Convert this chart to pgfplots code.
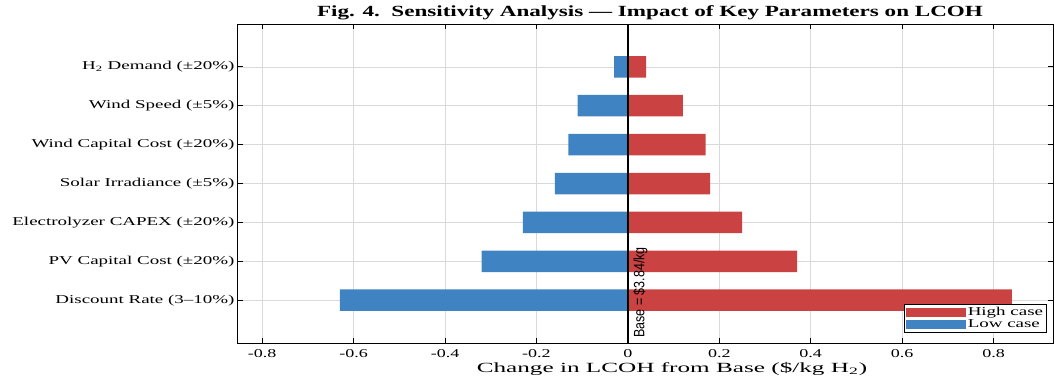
\documentclass[border=0pt]{standalone}
\usepackage{fontspec}
\setmainfont{Liberation Serif}
\newfontfamily\basefont{Liberation Sans}
\usepackage{pgfplots}
\pgfplotsset{compat=1.18}
\definecolor{hired}{RGB}{203,66,66}
\definecolor{lowblue}{RGB}{64,131,194}
\newcommand{\sx}[1]{\scalebox{1.58}[1]{#1}}
\newcommand{\sxt}[1]{\scalebox{1.5}[1]{#1}}
\begin{document}
\begin{tikzpicture}
\begin{axis}[
  scale only axis, width=815pt, height=319pt,
  xmin=-0.853, xmax=0.93, ymin=-1.1, ymax=7.1,
  xtick={-0.8,-0.6,-0.4,-0.2,0,0.2,0.4,0.6,0.8},
  xticklabels={\sxt{-0.8},\sxt{-0.6},\sxt{-0.4},\sxt{-0.2},\sxt{0},\sxt{0.2},\sxt{0.4},\sxt{0.6},\sxt{0.8}},
  ytick={0,1,2,3,4,5,6},
  yticklabels={\sx{Discount Rate (3–10\%)},\sx{PV Capital Cost (±20\%)},\sx{Electrolyzer CAPEX (±20\%)},\sx{Solar Irradiance (±5\%)},\sx{Wind Capital Cost (±20\%)},\sx{Wind Speed (±5\%)},\sx{H\textsubscript{2} Demand (±20\%)}},
  tick align=inside, major tick length=5pt,
  grid=major, grid style={gray!30, line width=0.5pt},
  axis line style={black, line width=1pt},
  tick style={black, line width=0.8pt},
  yticklabel style={font=\fontsize{12}{14}\selectfont},
  xticklabel style={font=\fontsize{12}{14}\selectfont, yshift=-3pt},
  title={\scalebox{1.49}[1]{\bfseries Fig. 4.\ \ Sensitivity Analysis --- Impact of Key Parameters on LCOH}},
  title style={font=\fontsize{15.5}{17}\selectfont, at={(rel axis cs:0.5055,1)}, anchor=base, yshift=2pt, inner sep=0pt},
  xlabel={\scalebox{1.8}[1]{Change in LCOH from Base (\$/kg H\textsubscript{2})}},
  xlabel style={font=\fontsize{14}{16}\selectfont, at={(rel axis cs:0.5325,0)}, anchor=base, yshift=-29pt, inner sep=0pt},
  legend style={at={(rel axis cs:0.9926,0.031)}, anchor=south east, draw=black, line width=0.8pt,
     font=\fontsize{12}{13}\selectfont, inner sep=1.5pt, row sep=-1.5pt},
  legend image code/.code={\fill[#1] (0pt,-4.5pt) rectangle (60pt,4.5pt);},
  legend cell align=left,
]
\addplot[xbar, bar width=21.5pt, bar shift=0pt, fill=hired, draw=none]
  coordinates {(0.84,0) (0.37,1) (0.25,2) (0.18,3) (0.17,4) (0.12,5) (0.04,6)};
\addlegendentry{\sx{High case}}
\addplot[xbar, bar width=21.5pt, bar shift=0pt, fill=lowblue, draw=none]
  coordinates {(-0.63,0) (-0.32,1) (-0.23,2) (-0.16,3) (-0.13,4) (-0.11,5) (-0.03,6)};
\addlegendentry{\sx{Low case}}
\addplot[black, line width=2.2pt, forget plot] coordinates {(0,-1.1) (0,7.1)};
\end{axis}
\node[rotate=90, anchor=north west, inner sep=0pt, font=\basefont\fontsize{12.5}{13}\selectfont]
  at (395pt,5pt) {\scalebox{1}[1.2]{Base = \$3.84/kg}};
\pgfresetboundingbox
\path[use as bounding box] (-238pt,-33pt) rectangle (816pt,343pt);
\end{tikzpicture}
\end{document}
